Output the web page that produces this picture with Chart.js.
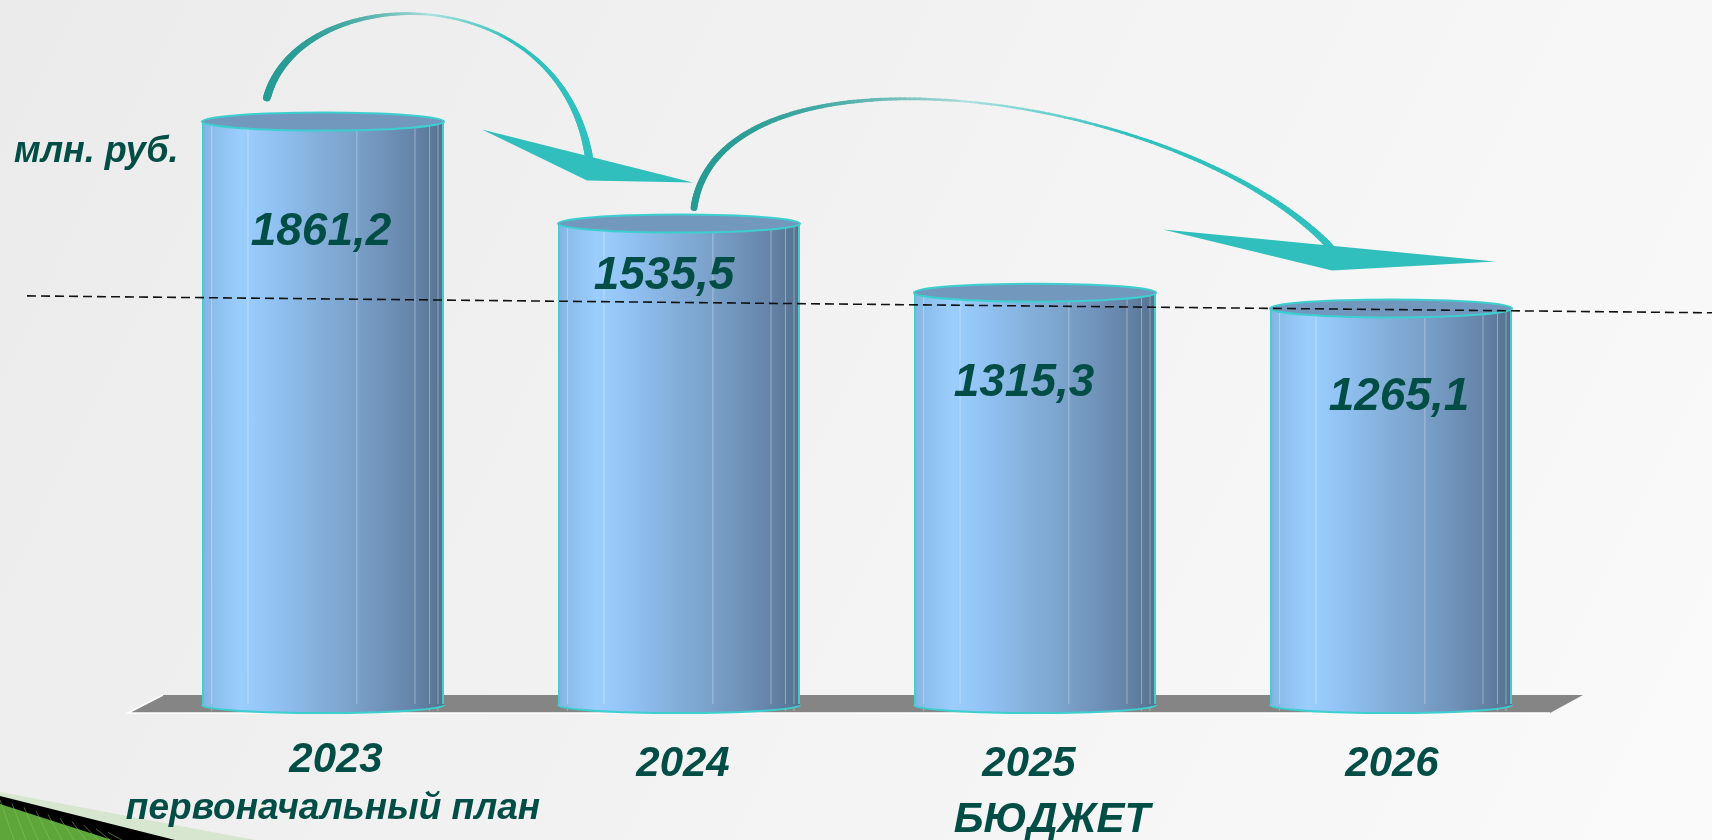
<!DOCTYPE html>
<html>
<head>
<meta charset="utf-8">
<script src="https://cdn.jsdelivr.net/npm/chart.js@4"></script>
<style>
  html, body { margin: 0; padding: 0; }
  #wrap { width: 1712px; height: 840px; }
</style>
</head>
<body>
<div id="wrap"><canvas id="chart"></canvas></div>
<script>
// Data
const years = ["2023", "2024", "2025", "2026"];
const subLabels = ["первоначальный план", "", "БЮДЖЕТ", ""];
const amounts = [1861.2, 1535.5, 1315.3, 1265.1];
const unitLabel = "млн. руб.";
const guideLevels = [1305, 1251]; // dashed line level at its left and right end

const textColor = "#024d45";
const fontFamily = "'Liberation Sans', Arial, sans-serif";

// Left-to-right shading of a cylinder body
function bodyGradient(ctx, left, right) {
    const g = ctx.createLinearGradient(left, 0, right, 0);
    g.addColorStop(0, "#84b3e0");
    g.addColorStop(0.06, "#8ec0ee");
    g.addColorStop(0.16, "#9bcefd");
    g.addColorStop(0.3, "#91c2f3");
    g.addColorStop(0.45, "#86b2de");
    g.addColorStop(0.6, "#7ca4cd");
    g.addColorStop(0.75, "#7093ba");
    g.addColorStop(0.88, "#6483a6");
    g.addColorStop(1, "#56718f");
    return g;
}

function mix(a, b, t) {
    const r = Math.round(a[0] + (b[0] - a[0]) * t);
    const g = Math.round(a[1] + (b[1] - a[1]) * t);
    const bl = Math.round(a[2] + (b[2] - a[2]) * t);
    return `rgb(${r},${g},${bl})`;
}

// Curved arrow with a changing stroke width and a flat arrow head
function drawArrow(ctx, ax, ay, pts, head, w0, w1) {
    const [p0, p1, p2, p3] = pts.map(p => [ax + p[0], ay + p[1]]);
    const n = 160;
    const c0 = [39, 155, 148], cMid = [205, 235, 233], c1 = [48, 192, 189];
    ctx.save();
    ctx.lineCap = "round";
    let prev = p0;
    for (let i = 1; i <= n; i++) {
        const t = i / n, u = 1 - t;
        const x = u*u*u*p0[0] + 3*u*u*t*p1[0] + 3*u*t*t*p2[0] + t*t*t*p3[0];
        const y = u*u*u*p0[1] + 3*u*u*t*p1[1] + 3*u*t*t*p2[1] + t*t*t*p3[1];
        let w, col;
        if (t < 0.5) {
            w = w0 - (w0 - 2.2) * (t / 0.5);
            col = mix(c0, cMid, Math.pow(t / 0.5, 3) * 0.8);
        } else {
            const s = (t - 0.5) / 0.5;
            w = 2.2 + (w1 - 2.2) * s * s;
            col = mix(cMid, c1, Math.min(1, s * 2.5) * 0.8 + 0.2);
        }
        ctx.strokeStyle = col;
        ctx.lineWidth = w;
        ctx.beginPath();
        ctx.moveTo(prev[0], prev[1]);
        ctx.lineTo(x, y);
        ctx.stroke();
        prev = [x, y];
    }
    ctx.fillStyle = "#30bfbc";
    ctx.beginPath();
    ctx.moveTo(ax + head[0][0], ay + head[0][1]);
    ctx.lineTo(ax + head[1][0], ay + head[1][1]);
    ctx.lineTo(ax + head[2][0], ay + head[2][1]);
    ctx.closePath();
    ctx.fill();
    ctx.restore();
}

const cylinderPlugin = {
    id: "cylinders",
    beforeDraw(chart) {
        const ctx = chart.ctx;
        const W = chart.width, H = chart.height;
        ctx.save();
        const bg = ctx.createLinearGradient(0, 0, W, H);
        bg.addColorStop(0, "#ebebeb");
        bg.addColorStop(1, "#fafafa");
        ctx.fillStyle = bg;
        ctx.fillRect(0, 0, W, H);

        // corner decoration
        ctx.fillStyle = "#d7e6cf";
        ctx.beginPath(); ctx.moveTo(0, 792); ctx.lineTo(255, H); ctx.lineTo(0, H); ctx.fill();
        ctx.fillStyle = "#000";
        ctx.beginPath(); ctx.moveTo(0, 796); ctx.lineTo(175, H); ctx.lineTo(0, H); ctx.fill();
        ctx.fillStyle = "#5ea63a";
        ctx.beginPath(); ctx.moveTo(0, 804); ctx.lineTo(112, H); ctx.lineTo(0, H); ctx.fill();
        ctx.strokeStyle = "rgba(140,200,100,0.5)";
        ctx.lineWidth = 1;
        for (let k = 0; k < 10; k++) {
            ctx.beginPath();
            ctx.moveTo(k * 12, 800 + k * 3.6);
            ctx.lineTo(k * 12 + 14, H);
            ctx.stroke();
        }

        // unit label
        ctx.fillStyle = textColor;
        ctx.font = `italic bold 36px ${fontFamily}`;
        ctx.textAlign = "left";
        ctx.textBaseline = "alphabetic";
        ctx.fillText(unitLabel, 14, 162);
        ctx.restore();
    },
    beforeDatasetsDraw(chart) {
        const ctx = chart.ctx;
        const a = chart.chartArea;
        const yb = chart.scales.y.getPixelForValue(0);
        ctx.save();
        ctx.fillStyle = "#858585";
        ctx.beginPath();
        ctx.moveTo(a.left + 18, yb - 10);
        ctx.lineTo(a.right + 14, yb - 10);
        ctx.lineTo(a.right - 19, yb + 8);
        ctx.lineTo(a.left - 17, yb + 8);
        ctx.closePath();
        ctx.fill();
        ctx.strokeStyle = "#ffffff";
        ctx.lineWidth = 1.5;
        ctx.beginPath();
        ctx.moveTo(a.left + 18, yb - 10);
        ctx.lineTo(a.left - 17, yb + 8);
        ctx.lineTo(a.right - 19, yb + 8);
        ctx.stroke();
        ctx.restore();
    },
    afterDatasetsDraw(chart) {
        const ctx = chart.ctx;
        const bars = chart.getDatasetMeta(0).data;
        const yScale = chart.scales.y;
        const labelOffsets = [111, 53, 91, 89];
        const labelShift = [-2, -15, -11, 8];
        const cyan = "#3ccfd0";
        ctx.save();
        bars.forEach((el, i) => {
            const w = el.width, cx = el.x;
            const left = cx - w / 2, right = cx + w / 2;
            const top = el.y, base = el.base;

            // facet lines on the body
            ctx.strokeStyle = "rgba(255,255,255,0.35)";
            ctx.lineWidth = 1;
            [0.04, 0.19, 0.64, 0.88, 0.94, 0.975].forEach(f => {
                ctx.beginPath();
                ctx.moveTo(left + w * f, top);
                ctx.lineTo(left + w * f, base + 6);
                ctx.stroke();
            });

            // bottom rim
            ctx.fillStyle = bodyGradient(ctx, left, right);
            ctx.beginPath();
            ctx.moveTo(left, base - 1);
            ctx.ellipse(cx, base, w / 2, 8, 0, Math.PI, 0, true);
            ctx.lineTo(right, base - 1);
            ctx.closePath();
            ctx.fill();
            ctx.strokeStyle = cyan;
            ctx.lineWidth = 2;
            ctx.beginPath();
            ctx.ellipse(cx, base, w / 2, 8, 0, 0, Math.PI);
            ctx.stroke();

            // top lid
            ctx.fillStyle = "#7398bd";
            ctx.beginPath();
            ctx.ellipse(cx, top, w / 2, 9, 0, 0, Math.PI * 2);
            ctx.fill();
            ctx.stroke();

            // value label
            ctx.fillStyle = textColor;
            ctx.font = `italic bold 46px ${fontFamily}`;
            ctx.textAlign = "center";
            ctx.textBaseline = "middle";
            ctx.fillText(String(amounts[i]).replace(".", ","), cx + labelShift[i], top + labelOffsets[i]);
        });

        // dashed guide line
        const a = chart.chartArea;
        ctx.strokeStyle = "#111";
        ctx.lineWidth = 1.6;
        ctx.setLineDash([9, 5]);
        ctx.beginPath();
        ctx.moveTo(a.left - 118, yScale.getPixelForValue(guideLevels[0]));
        ctx.lineTo(chart.width, yScale.getPixelForValue(guideLevels[1]));
        ctx.stroke();
        ctx.setLineDash([]);

        // arrows between columns
        drawArrow(ctx, bars[0].x, bars[0].y,
            [[-56, -24], [-24, -142], [236, -147], [266, 36]],
            [[159, 8], [370, 61], [264, 59]], 8, 8);
        drawArrow(ctx, bars[1].x, bars[1].y,
            [[15, -16], [41, -194], [501, -134], [651, 23]],
            [[484, 6], [816, 38], [653, 47]], 7, 7);

        // category labels
        const xs = chart.scales.x;
        const yearShift = [9, 0, -10, -3];
        ctx.fillStyle = textColor;
        ctx.textAlign = "center";
        ctx.textBaseline = "middle";
        years.forEach((yr, i) => {
            const x = xs.getPixelForValue(i);
            ctx.font = `italic bold 42px ${fontFamily}`;
            ctx.fillText(yr, x + 4 + yearShift[i], i === 0 ? 760 : 764);
            if (subLabels[i]) {
                const small = subLabels[i] === subLabels[i].toLowerCase();
                ctx.font = `italic bold ${small ? 37 : 42}px ${fontFamily}`;
                ctx.fillText(subLabels[i], x + (small ? 10 : 17), small ? 809 : 820);
            }
        });
        ctx.restore();
    }
};

const ctx = document.querySelector("#chart").getContext("2d");

const chart = new Chart(ctx, {
    type: "bar",
    data: {
        labels: years,
        datasets: [{
            data: amounts,
            backgroundColor: c => {
                const xs = c.chart.scales.x;
                if (!xs || c.dataIndex === undefined) return "#86b3df";
                const cx = xs.getPixelForValue(c.dataIndex);
                const half = (xs.width / years.length) * 0.68 / 2;
                if (!isFinite(cx) || !isFinite(half) || half <= 0) return "#86b3df";
                return bodyGradient(c.chart.ctx, cx - half, cx + half);
            },
            borderColor: "#3ccfd0",
            borderWidth: { left: 2, right: 2, top: 0, bottom: 0 },
            borderSkipped: false,
            categoryPercentage: 1,
            barPercentage: 0.68
        }]
    },
    options: {
        responsive: true,
        maintainAspectRatio: false,
        animation: false,
        layout: { padding: { left: 145, right: 143, top: 78, bottom: 135 } },
        plugins: {
            legend: { display: false },
            tooltip: { enabled: false }
        },
        scales: {
            x: { display: false },
            y: { display: false, min: 0, max: 2000 }
        }
    },
    plugins: [cylinderPlugin]
});
</script>
</body>
</html>
